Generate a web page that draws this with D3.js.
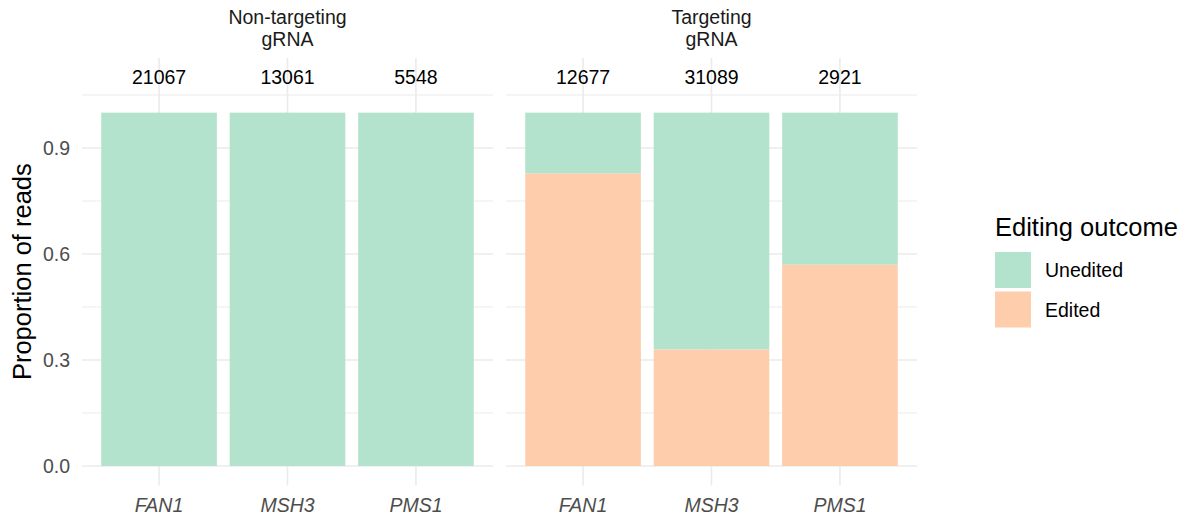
<!DOCTYPE html>
<html>
<head>
<meta charset="utf-8">
<script src="https://cdn.jsdelivr.net/npm/d3@7"></script>
<style>
  body { margin: 0; background: #fff; }
  text { font-family: "Liberation Sans", Arial, sans-serif; }
</style>
</head>
<body>
<div id="chart"></div>
<script>
// data
var panels = ["Non-targeting\ngRNA", "Targeting\ngRNA"]
var genes = ["FAN1", "MSH3", "PMS1"]
var readCounts = [[21067, 13061, 5548], [12677, 31089, 2921]]
var editedFrac = [[0, 0, 0], [0.828, 0.330, 0.570]]
var outcomes = ["Unedited", "Edited"]
var outcomeColors = ["#b3e2cd", "#fdcdac"]
var yTicks = [0, 0.3, 0.6, 0.9]
var yMinor = [0.15, 0.45, 0.75, 1.05]

var width = 1187, height = 523
var panelX = [[82, 493], [506, 917]]
var panelTop = 57.9, panelBottom = 485.4
var labelY = 1.1

var svg = d3.select("#chart").append("svg")
    .attr("width", width)
    .attr("height", height)

var yScale = d3.scaleLinear([-0.055, 1.155], [panelBottom, panelTop])
var color = d3.scaleOrdinal(outcomes, outcomeColors)

panels.forEach(function(name, p) {
    var g = svg.append("g")
    // ggplot discrete expansion: 0.6 units beyond the outer centres
    var xScale = d3.scaleBand(genes, panelX[p]).paddingOuter(0.1).paddingInner(0)
    var barW = xScale.bandwidth() * 0.9

    // gridlines
    g.selectAll(".minor").data(yMinor).join("line")
        .attr("x1", panelX[p][0]).attr("x2", panelX[p][1])
        .attr("y1", d => yScale(d)).attr("y2", d => yScale(d))
        .attr("stroke", "#ebebeb").attr("stroke-width", 1)
    g.selectAll(".major").data(yTicks).join("line")
        .attr("x1", panelX[p][0]).attr("x2", panelX[p][1])
        .attr("y1", d => yScale(d)).attr("y2", d => yScale(d))
        .attr("stroke", "#ebebeb").attr("stroke-width", 1.6)
    g.selectAll(".vgrid").data(genes).join("line")
        .attr("x1", d => xScale(d) + xScale.bandwidth() / 2)
        .attr("x2", d => xScale(d) + xScale.bandwidth() / 2)
        .attr("y1", panelTop).attr("y2", panelBottom)
        .attr("stroke", "#ebebeb").attr("stroke-width", 1.6)

    // stacked bars: edited at bottom, unedited on top
    genes.forEach(function(gene, i) {
        var e = editedFrac[p][i]
        var segs = [{k: "Edited", y0: 0, y1: e}, {k: "Unedited", y0: e, y1: 1}]
        g.selectAll(null).data(segs.filter(s => s.y1 > s.y0)).join("rect")
            .attr("x", xScale(gene) + (xScale.bandwidth() - barW) / 2)
            .attr("width", barW)
            .attr("y", s => yScale(s.y1))
            .attr("height", s => yScale(s.y0) - yScale(s.y1))
            .attr("fill", s => color(s.k))
    })

    // read counts
    g.selectAll(".cnt").data(genes).join("text")
        .attr("x", d => xScale(d) + xScale.bandwidth() / 2)
        .attr("y", yScale(labelY))
        .attr("dy", "0.35em")
        .attr("text-anchor", "middle")
        .style("font-size", "19.5px")
        .attr("fill", "#000")
        .text((d, i) => readCounts[p][i])

    // x axis labels
    g.selectAll(".xl").data(genes).join("text")
        .attr("x", d => xScale(d) + xScale.bandwidth() / 2)
        .attr("y", 505)
        .attr("dy", "0.35em")
        .attr("text-anchor", "middle")
        .style("font-size", "19.5px")
        .style("font-style", "italic")
        .attr("fill", "#4d4d4d")
        .text(d => d)

    // strip label
    var lines = name.split("\n")
    var cx = (panelX[p][0] + panelX[p][1]) / 2
    g.selectAll(".strip").data(lines).join("text")
        .attr("x", cx)
        .attr("y", (d, i) => 17.5 + i * 21.5)
        .attr("dy", "0.35em")
        .attr("text-anchor", "middle")
        .style("font-size", "19.5px")
        .attr("fill", "#1a1a1a")
        .text(d => d)
})

// y axis tick labels
svg.selectAll(".yl").data(yTicks).join("text")
    .attr("x", 70)
    .attr("y", d => yScale(d))
    .attr("dy", "0.35em")
    .attr("text-anchor", "end")
    .style("font-size", "19.5px")
    .attr("fill", "#4d4d4d")
    .text(d => d3.format(".1f")(d))

// y title
svg.append("text")
    .attr("transform", "translate(22," + ((panelTop + panelBottom) / 2) + ") rotate(-90)")
    .attr("dy", "0.35em")
    .attr("text-anchor", "middle")
    .style("font-size", "25.5px")
    .attr("fill", "#000")
    .text("Proportion of reads")

// legend
var leg = svg.append("g").attr("transform", "translate(995,0)")
leg.append("text")
    .attr("x", 0).attr("y", 227)
    .attr("dy", "0.35em")
    .style("font-size", "25.5px")
    .attr("fill", "#000")
    .text("Editing outcome")
leg.selectAll("rect").data(outcomes).join("rect")
    .attr("x", 0)
    .attr("y", (d, i) => 252 + i * 39.5)
    .attr("width", 36)
    .attr("height", 36)
    .attr("fill", d => color(d))
leg.selectAll(".lt").data(outcomes).join("text")
    .attr("x", 50)
    .attr("y", (d, i) => 270.5 + i * 39.5)
    .attr("dy", "0.35em")
    .style("font-size", "19.5px")
    .attr("fill", "#000")
    .text(d => d)
</script>
</body>
</html>
